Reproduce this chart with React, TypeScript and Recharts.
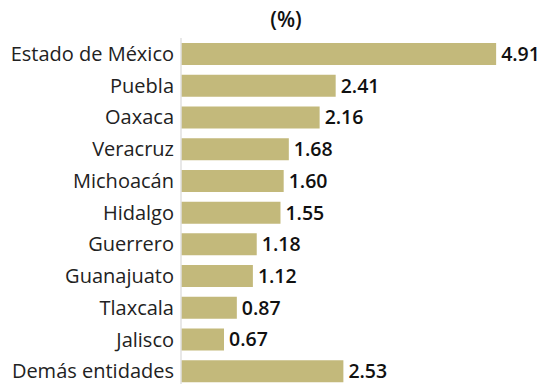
import { BarChart, Bar, XAxis, YAxis, LabelList } from "recharts";

const estados = [
  "Estado de México",
  "Puebla",
  "Oaxaca",
  "Veracruz",
  "Michoacán",
  "Hidalgo",
  "Guerrero",
  "Guanajuato",
  "Tlaxcala",
  "Jalisco",
  "Demás entidades",
];
const porcentajes = [4.91, 2.41, 2.16, 1.68, 1.6, 1.55, 1.18, 1.12, 0.87, 0.67, 2.53];

const data = estados.map((name, i) => ({ name, valor: porcentajes[i] }));

const FONT = "'Open Sans', sans-serif";

export default function App() {
  return (
    <div
      style={{
        position: "relative",
        width: 537,
        height: 376,
        overflow: "hidden",
        fontFamily: FONT,
      }}
    >
      <div
        style={{
          position: "absolute",
          top: 0,
          left: 228,
          width: 100,
          textAlign: "center",
          fontSize: 21,
          fontWeight: 600,
          color: "#111",
          lineHeight: "22px",
        }}
      >
        (%)
      </div>
      <BarChart
        width={537}
        height={379}
        data={data}
        layout="vertical"
        margin={{ top: 30, right: 11, bottom: 0, left: 0 }}
        barSize={22}
      >
        <XAxis type="number" domain={[0, 5.5]} hide />
        <YAxis
          type="category"
          dataKey="name"
          width={173}
          axisLine={{ stroke: "#e0e0e0", strokeWidth: 1.5 }}
          tickLine={false}
          tickSize={5}
          tickMargin={2}
          tick={{ fill: "#222", fontSize: 20, fontFamily: FONT }}
          interval={0}
        />
        <Bar dataKey="valor" fill="#c3b97b" isAnimationActive={false}>
          <LabelList
            dataKey="valor"
            position="right"
            offset={5}
            formatter={(v: number) => v.toFixed(2)}
            style={{ fill: "#111", fontSize: 19.5, fontWeight: 600, fontFamily: FONT }}
          />
        </Bar>
      </BarChart>
    </div>
  );
}
